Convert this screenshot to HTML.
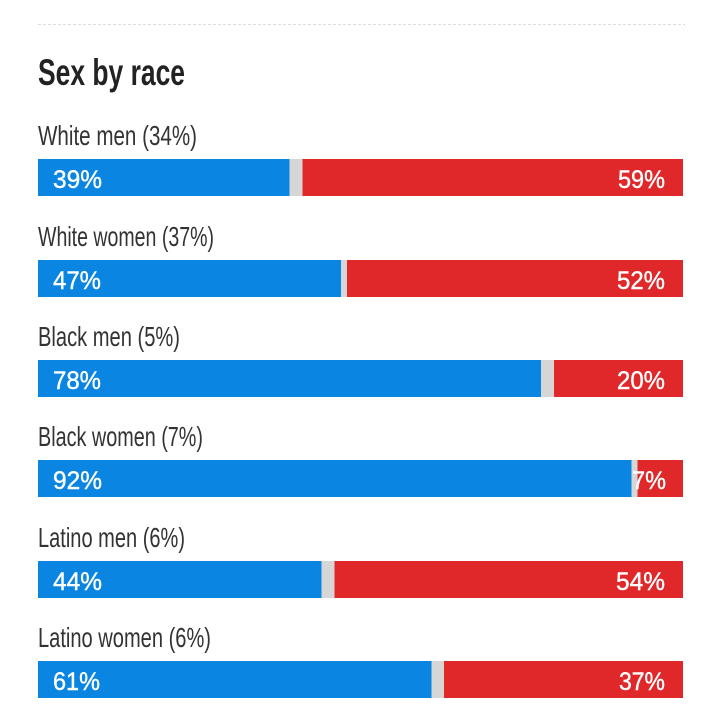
<!DOCTYPE html>
<html>
<head>
<meta charset="utf-8">
<style>
  html, body { margin: 0; padding: 0; background: #ffffff; }
  svg { display: block; }
  .title { font-family: "Liberation Sans", sans-serif; font-weight: bold; font-size: 37px; fill: #222222; }
  .lab { font-family: "Liberation Sans", sans-serif; font-size: 28px; fill: #333333; }
  .val { font-family: "Liberation Sans", sans-serif; font-size: 25px; fill: #ffffff; stroke: #ffffff; stroke-width: 0.4; }
</style>
</head>
<body>
<svg width="720" height="720" viewBox="0 0 720 720" xmlns="http://www.w3.org/2000/svg">
  <rect x="0" y="0" width="720" height="720" fill="#ffffff"/>
  <line x1="38" y1="24.5" x2="685" y2="24.5" stroke="#dddddd" stroke-width="1" stroke-dasharray="3,2"/>
  <text class="title" x="38" y="85" textLength="147" lengthAdjust="spacingAndGlyphs">Sex by race</text>

  <!-- Row 1 -->
  <text class="lab" x="38" y="145" textLength="159" lengthAdjust="spacingAndGlyphs">White men (34%)</text>
  <rect x="38" y="159" width="645" height="37" fill="#d6d6d6"/>
  <rect x="38" y="159" width="251.5" height="37" fill="#0a86e2"/>
  <rect x="302.5" y="159" width="380.5" height="37" fill="#e0282b"/>
  <text class="val" x="53" y="188" textLength="49" lengthAdjust="spacingAndGlyphs">39%</text>
  <text class="val" x="665" y="188" text-anchor="end" textLength="47" lengthAdjust="spacingAndGlyphs">59%</text>

  <!-- Row 2 -->
  <text class="lab" x="38" y="246" textLength="176" lengthAdjust="spacingAndGlyphs">White women (37%)</text>
  <rect x="38" y="260" width="645" height="37" fill="#d6d6d6"/>
  <rect x="38" y="260" width="303" height="37" fill="#0a86e2"/>
  <rect x="347" y="260" width="336" height="37" fill="#e0282b"/>
  <text class="val" x="53" y="289" textLength="48" lengthAdjust="spacingAndGlyphs">47%</text>
  <text class="val" x="665" y="289" text-anchor="end" textLength="48" lengthAdjust="spacingAndGlyphs">52%</text>

  <!-- Row 3 -->
  <text class="lab" x="38" y="346" textLength="142" lengthAdjust="spacingAndGlyphs">Black men (5%)</text>
  <rect x="38" y="360" width="645" height="37" fill="#d6d6d6"/>
  <rect x="38" y="360" width="503" height="37" fill="#0a86e2"/>
  <rect x="554" y="360" width="129" height="37" fill="#e0282b"/>
  <text class="val" x="53" y="389" textLength="48" lengthAdjust="spacingAndGlyphs">78%</text>
  <text class="val" x="665" y="389" text-anchor="end" textLength="48" lengthAdjust="spacingAndGlyphs">20%</text>

  <!-- Row 4 -->
  <text class="lab" x="38" y="446" textLength="165" lengthAdjust="spacingAndGlyphs">Black women (7%)</text>
  <rect x="38" y="460" width="645" height="37" fill="#d6d6d6"/>
  <rect x="38" y="460" width="593.5" height="37" fill="#0a86e2"/>
  <rect x="637.5" y="460" width="45.5" height="37" fill="#e0282b"/>
  <text class="val" x="53" y="489" textLength="49" lengthAdjust="spacingAndGlyphs">92%</text>
  <text class="val" x="666" y="489" text-anchor="end" textLength="34" lengthAdjust="spacingAndGlyphs" style="paint-order:stroke" stroke="#e0282b">7%</text>

  <!-- Row 5 -->
  <text class="lab" x="38" y="547" textLength="147" lengthAdjust="spacingAndGlyphs">Latino men (6%)</text>
  <rect x="38" y="561" width="645" height="37" fill="#d6d6d6"/>
  <rect x="38" y="561" width="283.5" height="37" fill="#0a86e2"/>
  <rect x="334.5" y="561" width="348.5" height="37" fill="#e0282b"/>
  <text class="val" x="53" y="590" textLength="49" lengthAdjust="spacingAndGlyphs">44%</text>
  <text class="val" x="665" y="590" text-anchor="end" textLength="49" lengthAdjust="spacingAndGlyphs">54%</text>

  <!-- Row 6 -->
  <text class="lab" x="38" y="647" textLength="173" lengthAdjust="spacingAndGlyphs">Latino women (6%)</text>
  <rect x="38" y="661" width="645" height="37" fill="#d6d6d6"/>
  <rect x="38" y="661" width="393.5" height="37" fill="#0a86e2"/>
  <rect x="444" y="661" width="239" height="37" fill="#e0282b"/>
  <text class="val" x="53" y="690" textLength="47" lengthAdjust="spacingAndGlyphs">61%</text>
  <text class="val" x="665" y="690" text-anchor="end" textLength="46" lengthAdjust="spacingAndGlyphs">37%</text>
</svg>
</body>
</html>
